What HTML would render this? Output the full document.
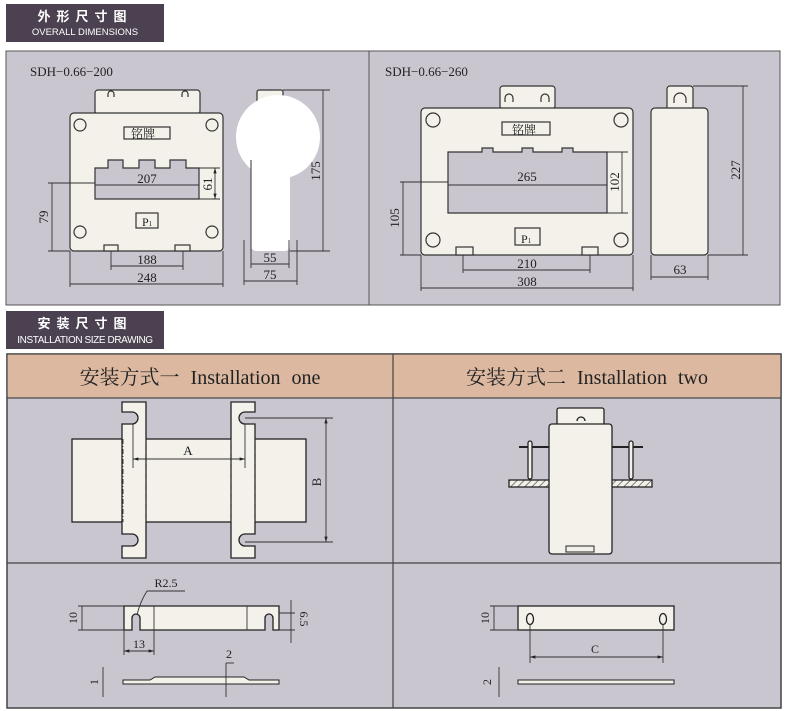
<!DOCTYPE html>
<html><head><meta charset="utf-8"><style>
body{margin:0;background:#fff;width:790px;height:711px;overflow:hidden}
svg{display:block}
.s{font-family:"Liberation Serif","Noto Serif CJK SC",serif;fill:#222}
</style></head><body>
<svg width="790" height="711" viewBox="0 0 790 711" xmlns="http://www.w3.org/2000/svg">
<defs>
<marker id="a" viewBox="0 0 10 10" refX="10" refY="5" markerWidth="6" markerHeight="6" orient="auto-start-reverse"><path d="M0,2 L10,5 L0,8z" fill="#222"/></marker>
<pattern id="h" width="5" height="5" patternUnits="userSpaceOnUse" patternTransform="rotate(45)"><rect width="5" height="5" fill="#f3f0e8"/><line x1="0" y1="0" x2="0" y2="5" stroke="#333" stroke-width="1.2"/></pattern>
</defs>
<!-- headers -->
<rect x="6" y="4" width="158" height="38" fill="#4b4150"/>
<text x="85" y="21" text-anchor="middle" fill="#fff" font-family="'Noto Sans CJK SC',sans-serif" font-weight="bold" font-size="13" letter-spacing="6">外形尺寸图</text>
<text x="85" y="35" text-anchor="middle" fill="#fff" font-family="'Liberation Sans',sans-serif" font-size="9.5">OVERALL DIMENSIONS</text>
<rect x="6" y="311" width="158" height="38" fill="#4b4150"/>
<text x="85" y="328" text-anchor="middle" fill="#fff" font-family="'Noto Sans CJK SC',sans-serif" font-weight="bold" font-size="13" letter-spacing="6">安装尺寸图</text>
<text x="85" y="343" text-anchor="middle" fill="#fff" font-family="'Liberation Sans',sans-serif" font-size="10" letter-spacing="-0.4">INSTALLATION SIZE DRAWING</text>
<!-- top panel -->
<rect x="6" y="51" width="774" height="254" fill="#cac6d0" stroke="#555" stroke-width="1"/>
<line x1="369" y1="51" x2="369" y2="305" stroke="#555"/>
<text x="30" y="76" class="s" font-size="13">SDH−0.66−200</text>
<text x="385" y="76" class="s" font-size="13">SDH−0.66−260</text>
<g stroke="#333" stroke-width="1.2" fill="#f3f1ea">
<rect x="95" y="90" width="105" height="24" rx="3"/>
<rect x="70" y="113" width="153" height="138" rx="4"/>
<circle cx="80" cy="125" r="6"/><circle cx="212" cy="125" r="6"/><circle cx="80" cy="232" r="6"/><circle cx="212" cy="232" r="6"/>
<path d="M108,97 v-3 a3,3 0 0 1 6,0 v3 M182,97 v-3 a3,3 0 0 1 6,0 v3" fill="none"/>
<rect x="124" y="127" width="46" height="12"/>
<path d="M95,168 H108 V160 H123 V168 H139 V160 H155 V168 H170 V160 H186 V168 H199 V199 H95Z" fill="#cac6d0"/>
<rect x="136" y="213" width="22" height="15"/>
<rect x="104" y="245" width="14" height="6"/><rect x="175" y="245" width="15" height="6"/>
<rect x="257" y="90" width="26" height="20" rx="2"/>
<path d="M251,160 V246 a5,5 0 0 0 5,5 H285 a5,5 0 0 0 5,-5 V160Z" fill="#fff" stroke="none"/>
<circle cx="278" cy="137" r="42" fill="#fff" stroke="none"/>
<line x1="251" y1="160" x2="251" y2="251" stroke-width="1"/>
<rect x="500" y="86" width="55" height="23" rx="3"/>
<path d="M505,102 v-4 a4,4 0 0 1 8,0 v4 M541,102 v-4 a4,4 0 0 1 8,0 v4" fill="none"/>
<rect x="421" y="108" width="212" height="147" rx="4"/>
<circle cx="433" cy="120" r="7"/><circle cx="621" cy="120" r="7"/><circle cx="433" cy="240" r="7"/><circle cx="621" cy="240" r="7"/>
<rect x="502" y="122" width="48" height="13"/>
<path d="M448,152 H482 V148 H493 V152 H522 V148 H533 V152 H562 V148 H573 V152 H607 V213 H448Z" fill="#cac6d0"/>
<rect x="515" y="228" width="25" height="17"/>
<rect x="456" y="247" width="17" height="8"/><rect x="582" y="247" width="16" height="8"/>
<rect x="667" y="86" width="26" height="24" rx="3"/>
<path d="M674,103 v-4 a6,6 0 0 1 12,0 v4" fill="none"/>
<rect x="651" y="108" width="57" height="147" rx="4"/>
</g>
<g stroke="#333" stroke-width="0.9" fill="none">
<line x1="95" y1="185" x2="199" y2="185"/>
<path d="M199,168 H220 M199,199 H220"/><line x1="215" y1="168" x2="215" y2="199" marker-start="url(#a)" marker-end="url(#a)"/>
<path d="M48,183 H95 M48,251 H70"/><line x1="52" y1="183" x2="52" y2="251"/>
<path d="M111,251 V270 M183,251 V270"/><line x1="111" y1="266" x2="183" y2="266"/>
<path d="M70,251 V287 M223,251 V287"/><line x1="70" y1="284" x2="223" y2="284"/>
<path d="M283,90 H330 M290,251 H330"/><line x1="323" y1="90" x2="323" y2="251"/>
<path d="M251,251 V268 M289,240 V268 M244,240 V285 M297,240 V285"/>
<line x1="251" y1="264" x2="289" y2="264"/><line x1="244" y1="281" x2="297" y2="281"/>
<line x1="448" y1="185" x2="607" y2="185"/>
<path d="M607,152 H628 M607,213 H628"/><line x1="622" y1="152" x2="622" y2="213"/>
<path d="M400,182 H448 M400,255 H421"/><line x1="403" y1="182" x2="403" y2="255"/>
<path d="M463,255 V273 M590,255 V273"/><line x1="463" y1="270" x2="590" y2="270"/>
<path d="M421,255 V291 M633,255 V291"/><line x1="421" y1="288" x2="633" y2="288"/>
<path d="M693,86 H748 M708,255 H748"/><line x1="743" y1="86" x2="743" y2="255"/>
<path d="M651,255 V280 M708,255 V280"/><line x1="651" y1="277" x2="708" y2="277"/>
</g>
<g class="s" font-size="13">
<text x="131" y="138" font-size="12">铭牌</text>
<text x="147" y="183" text-anchor="middle">207</text>
<text x="142" y="226" font-size="12">P<tspan font-size="7">1</tspan></text>
<text x="147" y="264" text-anchor="middle">188</text>
<text x="147" y="282" text-anchor="middle">248</text>
<text x="270" y="262" text-anchor="middle">55</text>
<text x="270" y="279" text-anchor="middle">75</text>
<text transform="translate(212,184) rotate(-90)" text-anchor="middle">61</text>
<text transform="translate(48,217) rotate(-90)" text-anchor="middle">79</text>
<text transform="translate(320,171) rotate(-90)" text-anchor="middle">175</text>
<text x="512" y="134" font-size="12">铭牌</text>
<text x="527" y="181" text-anchor="middle">265</text>
<text x="521" y="243" font-size="12">P<tspan font-size="7">1</tspan></text>
<text x="527" y="268" text-anchor="middle">210</text>
<text x="527" y="286" text-anchor="middle">308</text>
<text x="680" y="274" text-anchor="middle">63</text>
<text transform="translate(619,182) rotate(-90)" text-anchor="middle">102</text>
<text transform="translate(399,218) rotate(-90)" text-anchor="middle">105</text>
<text transform="translate(740,170) rotate(-90)" text-anchor="middle">227</text>
</g>
<!-- lower table -->
<rect x="7" y="354" width="774" height="354" fill="#cac6d0" stroke="#444" stroke-width="1.5"/>
<rect x="7" y="354" width="774" height="44" fill="#dcb8a0" stroke="#444" stroke-width="1.2"/>
<line x1="393" y1="354" x2="393" y2="708" stroke="#444" stroke-width="1.2"/>
<line x1="7" y1="563" x2="781" y2="563" stroke="#444" stroke-width="1.2"/>
<text x="200" y="384" text-anchor="middle" class="s" font-size="20" fill="#333" word-spacing="6">安装方式一 Installation one</text>
<text x="587" y="384" text-anchor="middle" class="s" font-size="20" fill="#333" word-spacing="6">安装方式二 Installation two</text>
<g stroke="#222" stroke-width="1.3" fill="#f3f1ea">
<rect x="72" y="439" width="234" height="83"/>
<path d="M122,402 H146 V558 H122 V546 H132 a6,6 0 0 0 0,-12 H122 V424 H132 a6,6 0 0 0 0,-12 H122Z"/>
<path d="M231,402 H255 V412 H245 a6,6 0 0 0 0,12 H255 V534 H245 a6,6 0 0 0 0,12 H255 V558 H231Z"/>
</g>
<g stroke="#333" stroke-width="0.9" fill="none">
<path d="M123,439 V522 M146,439 V522 M231,439 V522 M255,439 V522" stroke-dasharray="5,2,1,2"/>
<path d="M133,424 V468 M245,424 V468"/>
<line x1="133" y1="459" x2="245" y2="459" marker-start="url(#a)" marker-end="url(#a)"/>
<path d="M245,418 H333 M245,542 H333"/>
<line x1="326" y1="418" x2="326" y2="542" marker-start="url(#a)" marker-end="url(#a)"/>
</g>
<text x="188" y="455" text-anchor="middle" class="s" font-size="13">A</text>
<text transform="translate(321,482) rotate(-90)" text-anchor="middle" class="s" font-size="13">B</text>
<g stroke="#222" stroke-width="1.3">
<rect x="557" y="408" width="47" height="18" rx="2" fill="#f3f1ea"/>
<path d="M577,421 a4,4 0 0 1 8,0" fill="none"/>
<line x1="519" y1="447" x2="643" y2="447" stroke-width="2"/>
<rect x="528" y="441" width="4" height="38" rx="2" fill="#f3f1ea"/>
<rect x="629" y="441" width="4" height="38" rx="2" fill="#f3f1ea"/>
<rect x="509" y="480" width="143" height="7" fill="url(#h)"/>
<rect x="549" y="424" width="63" height="130" rx="3" fill="#f3f1ea"/>
<rect x="566" y="546" width="28" height="6" fill="#f3f1ea" stroke-width="1"/>
</g>
<!-- bottom drawings -->
<g stroke="#222" stroke-width="1.3" fill="#f3f1ea">
<path d="M124,606 H279 V630 H273 V618 a4,4 0 0 0 -8,0 V630 H140 V618 a4,4 0 0 0 -8,0 V630 H124Z"/>
<path d="M123,680 H150 L155,677 H244 L249,680 H279 V684 H123Z" stroke-width="1"/>
<rect x="518" y="606" width="156" height="24"/>
<ellipse cx="530" cy="619" rx="3.5" ry="5.5"/><ellipse cx="663" cy="619" rx="3.5" ry="5.5"/>
<path d="M518,680 H674 V684 H518Z" stroke-width="1"/>
</g>
<g stroke="#333" stroke-width="0.9" fill="none">
<line x1="154" y1="606" x2="154" y2="630"/><line x1="247" y1="606" x2="247" y2="630"/>
<path d="M78,606 H124 M78,630 H124"/><line x1="82" y1="606" x2="82" y2="630"/>
<path d="M124,630 V655 M154,630 V655"/><line x1="124" y1="651" x2="154" y2="651" marker-start="url(#a)" marker-end="url(#a)"/>
<path d="M279,613 H295 M279,630 H295"/><line x1="291" y1="600" x2="291" y2="643"/>
<path d="M147,591 H185 M147,591 Q140,602 137,615"/>
<line x1="103" y1="667" x2="103" y2="697"/>
<line x1="226" y1="663" x2="226" y2="697"/><path d="M226,663 H234"/>
<path d="M490,606 H518 M490,630 H518"/><line x1="494" y1="606" x2="494" y2="630"/>
<path d="M530,624 V663 M663,624 V663"/><line x1="530" y1="657" x2="663" y2="657" marker-start="url(#a)" marker-end="url(#a)"/>
<line x1="499" y1="667" x2="499" y2="697"/>
</g>
<g class="s" font-size="12">
<text x="166" y="587" text-anchor="middle">R2.5</text>
<text x="139" y="648" text-anchor="middle">13</text>
<text x="229" y="658" text-anchor="middle">2</text>
<text x="595" y="653" text-anchor="middle">C</text>
<text transform="translate(77,618) rotate(-90)" text-anchor="middle">10</text>
<text transform="translate(300,619) rotate(90)" text-anchor="middle">6.5</text>
<text transform="translate(98,682) rotate(-90)" text-anchor="middle">1</text>
<text transform="translate(489,618) rotate(-90)" text-anchor="middle">10</text>
<text transform="translate(491,682) rotate(-90)" text-anchor="middle">2</text>
</g>
</svg>
</body></html>
